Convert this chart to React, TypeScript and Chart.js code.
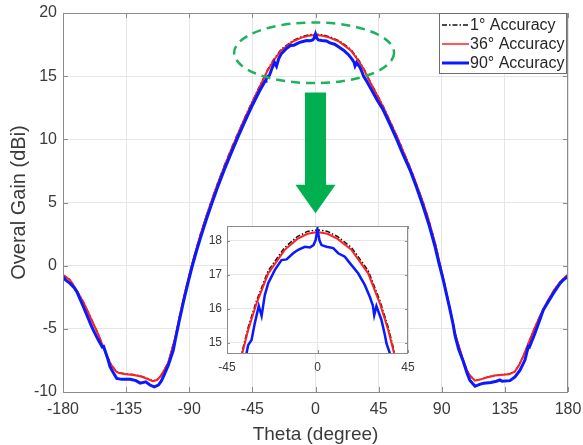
import React, { useEffect, useRef } from "react";
import { Chart, registerables } from "chart.js";
Chart.register(...registerables);

// ---------- data ----------
const THETA_TICKS = [-180, -135, -90, -45, 0, 45, 90, 135, 180];
const GAIN_TICKS = [-10, -5, 0, 5, 10, 15, 20];
const INSET_THETA_TICKS = [-45, 0, 45];
const INSET_GAIN_TICKS = [15, 16, 17, 18];
const SERIES_LABELS = ["1° Accuracy", "36° Accuracy", "90° Accuracy"];
const X_TITLE = "Theta (degree)";
const Y_TITLE = "Overal Gain (dBi)";

// 36° and 1° accuracy share the same theta sampling
const thetaSmooth = [
  -180, -175, -170, -165, -160, -155, -150, -146, -142, -140,
  -135, -130, -125, -120, -116, -113, -110, -108, -105, -100,
  -97, -94, -91, -88, -85, -82, -78, -74, -70, -65,
  -60, -55, -50, -45, -40, -37.4, -34.5, -30.3, -24.5, -16.3,
  -10, -5, 0, 5, 10, 16.9, 25.2, 31, 35.2, 38.1,
  40, 45, 48.3, 50, 55, 57.9, 60, 65, 67.4, 70,
  75, 76.8, 80, 85, 90, 95, 100, 105, 108, 110,
  113.7, 118, 122, 128, 132, 138, 142, 145, 148, 152,
  156, 160, 165, 170, 175, 180,
];
const gain36 = [
  -0.74, -1.14, -2.0, -3.0, -4.2, -5.4, -6.8, -7.8, -8.4, -8.5,
  -8.6, -8.65, -8.75, -8.95, -9.15, -9.05, -8.7, -8.3, -7.7, -5.7,
  -4.1, -2.6, -1.2, 0.1, 1.3, 2.45, 3.85, 5.15, 6.4, 7.85,
  9.2, 10.5, 11.75, 12.95, 14.1, 14.69, 15.37, 16.16, 17.04, 17.73,
  18.05, 18.2, 18.25, 18.2, 18.05, 17.73, 17.04, 16.16, 15.37, 14.69,
  14.3, 13.25, 12.55, 12.15, 10.95, 10.25, 9.7, 8.4, 7.75, 7.0,
  5.5, 4.95, 3.85, 1.9, -0.5, -3.0, -5.6, -7.4, -8.3, -8.7,
  -9.1, -9.0, -8.85, -8.7, -8.65, -8.6, -8.4, -7.9, -7.2, -6.1,
  -5.0, -4.0, -2.9, -1.95, -1.2, -0.72,
];
const gain1 = [
  -0.72, -1.12, -1.98, -2.98, -4.18, -5.38, -6.78, -7.78, -8.38, -8.48,
  -8.58, -8.62, -8.72, -8.92, -9.12, -9.02, -8.68, -8.28, -7.66, -5.66,
  -4.05, -2.55, -1.15, 0.15, 1.35, 2.5, 3.9, 5.2, 6.46, 7.92,
  9.27, 10.57, 11.82, 13.02, 14.17, 14.76, 15.45, 16.24, 17.12, 17.8,
  18.12, 18.27, 18.32, 18.27, 18.12, 17.8, 17.12, 16.24, 15.45, 14.76,
  14.37, 13.32, 12.62, 12.2, 11.0, 10.3, 9.75, 8.45, 7.8, 7.05,
  5.55, 5.0, 3.9, 1.95, -0.45, -2.95, -5.55, -7.38, -8.28, -8.68,
  -9.08, -8.98, -8.83, -8.68, -8.63, -8.58, -8.38, -7.88, -7.18, -6.08,
  -4.98, -3.98, -2.88, -1.93, -1.18, -0.7,
];

const theta90 = [
  -180, -178, -175, -172, -170, -165.5, -160, -158.4, -155, -152,
  -151, -148, -146.5, -144, -141.7, -138, -132, -128, -125, -121,
  -118, -115, -112, -110, -108.5, -105, -101.4, -100, -97, -94,
  -91, -88, -85, -82, -78, -74, -70, -65, -60, -55,
  -50, -45, -40, -36, -35.3, -34.5, -32.8, -31.2, -29.2, -27.8,
  -26.2, -24.5, -21.2, -17.9, -15.4, -12.1, -9.6, -6.3, -3.8, -2,
  -1, 0, 1, 2, 4.5, 7.8, 10.3, 13.6, 16.1, 20.2,
  23.5, 26, 27.5, 28.2, 29.3, 31.8, 33.5, 34.3, 36, 40,
  44, 48.3, 53, 57.9, 62, 67.4, 72, 76.8, 81, 85.2,
  88, 91.1, 95.9, 98, 99.4, 102, 105.4, 108, 110, 113.7,
  117, 120, 125, 129, 131.5, 133, 138.6, 142.2, 145.8, 149.3,
  151.7, 152.5, 156.4, 162.4, 169.5, 174.3, 177, 180,
];
const gain90 = [
  -0.88, -1.15, -1.4, -1.75, -2.1, -3.25, -4.7, -5.1, -5.85, -6.45,
  -6.4, -7.4, -8.0, -8.5, -8.92, -9.0, -9.0, -9.1, -9.3, -9.2,
  -9.45, -9.6, -9.45, -9.15, -8.8, -7.9, -6.7, -5.9, -4.3, -2.8,
  -1.4, -0.1, 1.1, 2.2, 3.6, 4.9, 6.15, 7.6, 8.95, 10.25,
  11.5, 12.7, 13.8, 14.6, 14.69, 14.93, 15.08, 15.57, 16.08, 15.79,
  16.4, 16.75, 17.14, 17.43, 17.45, 17.63, 17.73, 17.82, 17.8, 17.87,
  18.0, 18.34, 18.0, 17.87, 17.82, 17.78, 17.63, 17.53, 17.34, 17.04,
  16.7, 16.35, 16.1, 15.81, 16.08, 15.67, 15.23, 14.98, 14.69, 13.9,
  13.1, 12.32, 11.2, 10.0, 8.9, 7.57, 6.2, 4.66, 3.2, 1.5,
  0.2, -1.14, -3.5, -4.6, -5.5, -6.6, -7.6, -8.5, -9.06, -9.55,
  -9.4, -9.3, -9.25, -9.15, -9.05, -9.15, -9.1, -8.8, -8.27, -7.47,
  -6.4, -6.45, -5.36, -3.5, -2.2, -1.4, -1.1, -0.85,
];

// annotation (data coordinates)
const ELLIPSE_CENTER = { theta: -1, gain: 16.85 };
const ELLIPSE_HALF = { theta: 57, gain: 2.4 };
const ARROW_SHAFT = { halfTheta: 7.5, top: 13.7, bottom: 6.4 };
const ARROW_HEAD = { halfTheta: 14.3, tip: 4.15 };

// ---------- styles ----------
const FONT = "'Liberation Sans', Arial, Helvetica, sans-serif";
const TEXT_COLOR = "#3a3a3a";
const AXIS_COLOR = "#8c8c8c";
const GRID_COLOR = "#e6e6e6";
const BLACK = "#111111";
const RED = "#ff2020";
const BLUE = "#0a1aff";
const GREEN = "#00b050";
const BLACK_DASH = [5, 2, 1.5, 2];

const pts = (xs: number[], ys: number[]) => xs.map((x, i) => ({ x, y: ys[i] }));

function makeDatasets(inset: boolean) {
  return [
    {
      label: SERIES_LABELS[0],
      data: pts(thetaSmooth, gain1),
      borderColor: BLACK,
      borderWidth: 1.5,
      borderDash: BLACK_DASH,
      pointRadius: 0,
      order: 3,
    },
    {
      label: SERIES_LABELS[1],
      data: pts(thetaSmooth, gain36),
      borderColor: RED,
      borderWidth: 2,
      pointRadius: 0,
      order: 2,
    },
    {
      label: SERIES_LABELS[2],
      data: pts(theta90, gain90),
      borderColor: BLUE,
      borderWidth: inset ? 2.5 : 3,
      pointRadius: 0,
      order: 1,
    },
  ];
}

function boxPlugin(tickLen: number) {
  return {
    id: "box",
    beforeDraw(chart: any) {
      const { ctx, chartArea: a } = chart;
      ctx.save();
      ctx.fillStyle = "#ffffff";
      ctx.fillRect(a.left, a.top, a.right - a.left, a.bottom - a.top);
      ctx.restore();
    },
    afterDraw(chart: any) {
      const { ctx, chartArea: a, scales } = chart;
      ctx.save();
      ctx.strokeStyle = AXIS_COLOR;
      ctx.lineWidth = 1;
      ctx.strokeRect(a.left + 0.5, a.top + 0.5, a.right - a.left - 1, a.bottom - a.top);
      ctx.beginPath();
      scales.x.ticks.forEach((t: any) => {
        const px = Math.round(scales.x.getPixelForValue(t.value)) + 0.5;
        ctx.moveTo(px, a.bottom);
        ctx.lineTo(px, a.bottom - tickLen);
        ctx.moveTo(px, a.top);
        ctx.lineTo(px, a.top + tickLen);
      });
      scales.y.ticks.forEach((t: any) => {
        const py = Math.round(scales.y.getPixelForValue(t.value)) + 0.5;
        ctx.moveTo(a.left, py);
        ctx.lineTo(a.left + tickLen, py);
        ctx.moveTo(a.right, py);
        ctx.lineTo(a.right - tickLen, py);
      });
      ctx.stroke();
      ctx.restore();
    },
  };
}

const decorPlugin = {
  id: "decor",
  afterDraw(chart: any) {
    const { ctx, chartArea: a, scales } = chart;
    const xs = scales.x;
    const ys = scales.y;
    ctx.save();
    // dashed ellipse
    const cx = xs.getPixelForValue(ELLIPSE_CENTER.theta);
    const cy = ys.getPixelForValue(ELLIPSE_CENTER.gain);
    const rx = Math.abs(xs.getPixelForValue(ELLIPSE_CENTER.theta + ELLIPSE_HALF.theta) - cx);
    const ry = Math.abs(ys.getPixelForValue(ELLIPSE_CENTER.gain + ELLIPSE_HALF.gain) - cy);
    ctx.strokeStyle = "#1db35a";
    ctx.lineWidth = 2.5;
    ctx.setLineDash([9, 6]);
    ctx.beginPath();
    ctx.ellipse(cx, cy, rx, ry, 0, 0, Math.PI * 2);
    ctx.stroke();
    ctx.setLineDash([]);
    // arrow
    const x0 = xs.getPixelForValue(0);
    const sl = xs.getPixelForValue(-ARROW_SHAFT.halfTheta);
    const sr = xs.getPixelForValue(ARROW_SHAFT.halfTheta);
    const hl = xs.getPixelForValue(-ARROW_HEAD.halfTheta);
    const hr = xs.getPixelForValue(ARROW_HEAD.halfTheta);
    const st = ys.getPixelForValue(ARROW_SHAFT.top);
    const sb = ys.getPixelForValue(ARROW_SHAFT.bottom);
    const tip = ys.getPixelForValue(ARROW_HEAD.tip);
    ctx.fillStyle = GREEN;
    ctx.beginPath();
    ctx.moveTo(sl, st);
    ctx.lineTo(sr, st);
    ctx.lineTo(sr, sb);
    ctx.lineTo(hr, sb);
    ctx.lineTo(x0, tip);
    ctx.lineTo(hl, sb);
    ctx.lineTo(sl, sb);
    ctx.closePath();
    ctx.fill();

    // legend
    const right = a.right - 1;
    const left = right - 128;
    const top = a.top;
    const h = 61;
    ctx.fillStyle = "#ffffff";
    ctx.fillRect(left, top, right - left, h);
    ctx.strokeStyle = "#6e6e6e";
    ctx.lineWidth = 1;
    ctx.strokeRect(left + 0.5, top + 0.5, right - left - 1, h - 1);
    const styles = [
      { c: BLACK, w: 1.5, d: BLACK_DASH },
      { c: RED, w: 1.5, d: [] as number[] },
      { c: BLUE, w: 3, d: [] as number[] },
    ];
    ctx.font = `16px ${FONT}`;
    ctx.textBaseline = "middle";
    ctx.textAlign = "left";
    SERIES_LABELS.forEach((lab, i) => {
      const y = top + 12 + i * 19;
      const s = styles[i];
      ctx.strokeStyle = s.c;
      ctx.lineWidth = s.w;
      ctx.setLineDash(s.d);
      ctx.beginPath();
      ctx.moveTo(left + 3, y);
      ctx.lineTo(left + 30, y);
      ctx.stroke();
      ctx.setLineDash([]);
      ctx.fillStyle = "#262626";
      ctx.fillText(lab, left + 31, y + 1);
    });
    ctx.restore();
  },
};

const noOverhangX = (h: number) => (s: any) => {
  s.height = h;
  s.paddingLeft = 0;
  s.paddingRight = 0;
};
const noOverhangY = (w: number) => (s: any) => {
  s.width = w;
  s.paddingTop = 0;
  s.paddingBottom = 0;
};

export default function App() {
  const mainRef = useRef<HTMLCanvasElement>(null);
  const insetRef = useRef<HTMLCanvasElement>(null);

  useEffect(() => {
    const main = new Chart(mainRef.current as HTMLCanvasElement, {
      type: "line",
      data: { datasets: makeDatasets(false) as any },
      options: {
        animation: false,
        responsive: false,
        devicePixelRatio: 1,
        layout: { padding: { top: 13, right: 15, left: 0, bottom: 0 } },
        plugins: { legend: { display: false }, tooltip: { enabled: false } },
        elements: { line: { tension: 0 } },
        scales: {
          x: {
            type: "linear",
            min: -180,
            max: 180,
            afterBuildTicks: (s: any) => {
              s.ticks = THETA_TICKS.map((v) => ({ value: v }));
            },
            afterFit: noOverhangX(53),
            grid: { color: GRID_COLOR, drawTicks: false },
            border: { display: false },
            ticks: {
              padding: 8,
              color: TEXT_COLOR,
              font: { family: FONT, size: 16 },
              maxRotation: 0,
              autoSkip: false,
            },
            title: {
              display: true,
              text: X_TITLE,
              color: TEXT_COLOR,
              font: { family: FONT, size: 19, lineHeight: 1 },
              padding: { top: 0, bottom: 1 },
            },
          },
          y: {
            type: "linear",
            min: -10,
            max: 20,
            afterBuildTicks: (s: any) => {
              s.ticks = GAIN_TICKS.map((v) => ({ value: v }));
            },
            afterFit: noOverhangY(63),
            grid: { color: GRID_COLOR, drawTicks: false },
            border: { display: false },
            ticks: {
              padding: 6,
              color: TEXT_COLOR,
              font: { family: FONT, size: 16 },
              autoSkip: false,
            },
            title: {
              display: true,
              text: Y_TITLE,
              color: TEXT_COLOR,
              font: { family: FONT, size: 20, lineHeight: 1 },
              padding: { top: 9, bottom: 0 },
            },
          },
        },
      },
      plugins: [boxPlugin(5), decorPlugin],
    });

    const inset = new Chart(insetRef.current as HTMLCanvasElement, {
      type: "line",
      data: { datasets: makeDatasets(true) as any },
      options: {
        animation: false,
        responsive: false,
        devicePixelRatio: 1,
        layout: { padding: { top: 4, right: 7, left: 0, bottom: 0 } },
        plugins: { legend: { display: false }, tooltip: { enabled: false } },
        elements: { line: { tension: 0 } },
        scales: {
          x: {
            type: "linear",
            min: -45,
            max: 45,
            afterBuildTicks: (s: any) => {
              s.ticks = INSET_THETA_TICKS.map((v) => ({ value: v }));
            },
            afterFit: noOverhangX(19),
            grid: { color: GRID_COLOR, drawTicks: false },
            border: { display: false },
            ticks: {
              padding: 7,
              color: TEXT_COLOR,
              font: { family: FONT, size: 12 },
              maxRotation: 0,
              autoSkip: false,
            },
          },
          y: {
            type: "linear",
            min: 14.7,
            max: 18.43,
            afterBuildTicks: (s: any) => {
              s.ticks = INSET_GAIN_TICKS.map((v) => ({ value: v }));
            },
            afterFit: noOverhangY(27),
            grid: { color: GRID_COLOR, drawTicks: false },
            border: { display: false },
            ticks: {
              padding: 5,
              color: TEXT_COLOR,
              font: { family: FONT, size: 12 },
              autoSkip: false,
            },
          },
        },
      },
      plugins: [boxPlugin(3)],
    });

    return () => {
      main.destroy();
      inset.destroy();
    };
  }, []);

  return (
    <div style={{ position: "fixed", left: 0, top: 0, width: 583, height: 445, background: "#fff" }}>
      <canvas ref={mainRef} width={583} height={445} style={{ position: "absolute", left: 0, top: 0 }} />
      <canvas ref={insetRef} width={215} height={150} style={{ position: "absolute", left: 200, top: 222 }} />
    </div>
  );
}
